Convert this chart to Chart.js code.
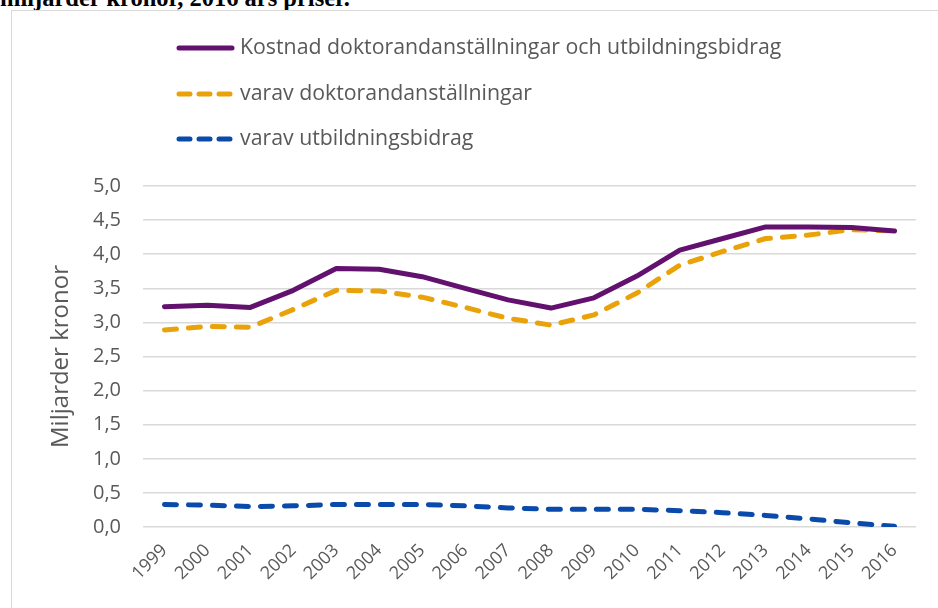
<!DOCTYPE html>
<html>
<head>
<meta charset="utf-8">
<script src="https://cdn.jsdelivr.net/npm/chart.js@4/dist/chart.umd.min.js"></script>
<style>
    body { margin: 0; background: #fff; width: 938px; height: 608px; overflow: hidden; position: relative; }
    .fig-title {
        position: absolute; left: 0; top: -16px; line-height: 25px;
        font: bold 24.5px "Liberation Serif", "Times New Roman", serif;
        color: #000; white-space: nowrap;
    }
    .frame {
        position: absolute; left: 11px; top: 10px; width: 940px; height: 610px;
        background: #fff;
        border-left: 1px solid #d9d9d9; border-top: 1px solid #d9d9d9;
    }
    #myChart { position: absolute; left: 0; top: 0; }
</style>
</head>
<body>
<div class="fig-title">miljarder kronor, 2016 års priser.</div>
<div class="frame"></div>
<canvas id="myChart" width="938" height="608"></canvas>
<script>
const years = ['1999', '2000', '2001', '2002', '2003', '2004', '2005', '2006', '2007', '2008',
    '2009', '2010', '2011', '2012', '2013', '2014', '2015', '2016']

const totalCost = [3.23, 3.25, 3.22, 3.47, 3.79, 3.78, 3.67, 3.50, 3.33, 3.21,
    3.36, 3.68, 4.06, 4.23, 4.40, 4.40, 4.39, 4.34]
const employmentCost = [2.89, 2.94, 2.93, 3.19, 3.47, 3.46, 3.37, 3.22, 3.06, 2.96,
    3.11, 3.43, 3.84, 4.04, 4.23, 4.28, 4.36, 4.34]
const grantCost = [0.33, 0.32, 0.30, 0.31, 0.33, 0.33, 0.33, 0.31, 0.28, 0.26,
    0.26, 0.26, 0.24, 0.21, 0.17, 0.12, 0.06, 0.01]

const yTicks = ['0,0', '0,5', '1,0', '1,5', '2,0', '2,5', '3,0', '3,5', '4,0', '4,5', '5,0']

const seriesNames = [
    'Kostnad doktorandanställningar och utbildningsbidrag',
    'varav doktorandanställningar',
    'varav utbildningsbidrag'
]

const textColor = '#595959'
const fontFamily = '"Open Sans", "Liberation Sans", sans-serif'

// legend drawn by hand: vertical list above the plot
const legendPlugin = {
    id: 'stackedLegend',
    afterDraw(chart) {
        const ctx = chart.ctx
        const rows = [48, 94, 139]
        ctx.save()
        chart.data.datasets.forEach((ds, i) => {
            const y = rows[i]
            ctx.beginPath()
            ctx.lineWidth = 5
            ctx.lineCap = 'round'
            ctx.strokeStyle = ds.borderColor
            ctx.setLineDash(ds.borderDash && ds.borderDash.length ? [11, 9] : [])
            ctx.moveTo(179, y)
            ctx.lineTo(232, y)
            ctx.stroke()
            ctx.setLineDash([])
            ctx.fillStyle = textColor
            ctx.font = '21.3px ' + fontFamily
            ctx.textBaseline = 'middle'
            ctx.fillText(ds.label, 240, y)
        })
        ctx.restore()
    }
}

const ctx = document.getElementById('myChart')

new Chart(ctx, {
    type: 'line',
    data: {
        labels: years,
        datasets: [{
            label: seriesNames[0],
            data: totalCost,
            borderColor: '#62116f',
            borderWidth: 5,
            borderJoinStyle: 'round',
            borderCapStyle: 'round',
            borderDash: []
        }, {
            label: seriesNames[1],
            data: employmentCost,
            borderColor: '#e9a20a',
            borderWidth: 5,
            borderJoinStyle: 'round',
            borderCapStyle: 'round',
            borderDash: [12, 12]
        }, {
            label: seriesNames[2],
            data: grantCost,
            borderColor: '#0a4aab',
            borderWidth: 5,
            borderJoinStyle: 'round',
            borderCapStyle: 'round',
            borderDash: [12, 12]
        }]
    },
    options: {
        responsive: false,
        animation: false,
        elements: { point: { radius: 0 }, line: { tension: 0 } },
        layout: { padding: { top: 186, right: 22, left: 0, bottom: 0 } },
        plugins: {
            legend: { display: false },
            tooltip: { enabled: false }
        },
        scales: {
            x: {
                offset: true,
                grid: { display: false },
                border: { display: false },
                ticks: {
                    color: textColor,
                    font: { family: fontFamily, size: 18 },
                    minRotation: 45,
                    maxRotation: 45,
                    padding: 5,
                    autoSkip: false
                },
                afterFit(scale) { scale.height = 81 }
            },
            y: {
                min: 0,
                max: 5,
                grid: { color: '#d9d9d9', lineWidth: 1.5, drawTicks: false },
                border: { display: false },
                ticks: {
                    stepSize: 0.5,
                    color: textColor,
                    font: { family: fontFamily, size: 20 },
                    padding: 22,
                    callback: (value, index) => yTicks[index]
                },
                title: {
                    display: true,
                    text: 'Miljarder kronor',
                    color: textColor,
                    font: { family: fontFamily, size: 24 },
                    padding: { top: 47, bottom: 0 }
                },
                afterFit(scale) { scale.width = 143 }
            }
        }
    },
    plugins: [legendPlugin]
})
</script>
</body>
</html>
